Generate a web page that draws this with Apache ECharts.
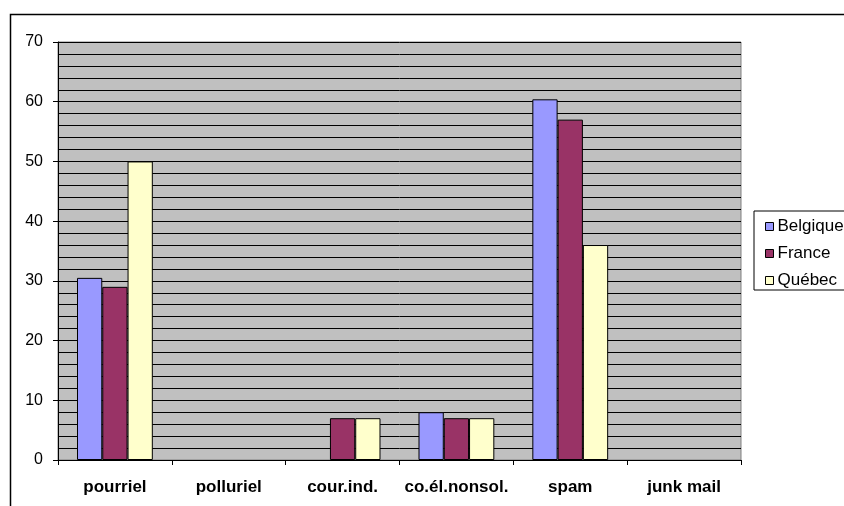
<!DOCTYPE html>
<html>
<head>
<meta charset="utf-8">
<script src="https://cdn.jsdelivr.net/npm/echarts@6/dist/echarts.min.js"></script>
<style>
  html, body { margin: 0; padding: 0; background: #fff; }
  #chart { width: 844px; height: 506px; }
</style>
</head>
<body>
<div id="chart"></div>
<script>
// Terms used for unsolicited e-mail, by region (%)
const categories = ['pourriel', 'polluriel', 'cour.ind.', 'co.él.nonsol.', 'spam', 'junk mail'];
const belgique = [30.5, null, null, 8, 60.4, null];
const france   = [29, null, 7, 7, 57, null];
const quebec   = [50, null, 7, 7, 36, null];
const seriesNames = ['Belgique', 'France', 'Québec'];
const seriesColors = ['#9999FF', '#993366', '#FFFFCC'];

const chart = echarts.init(document.getElementById('chart'), null, { renderer: 'canvas' });

const values = [belgique, france, quebec];

chart.setOption({
  animation: false,
  textStyle: { fontFamily: 'Arial, "Liberation Sans", sans-serif' },
  graphic: [{
    type: 'rect',
    shape: { x: 10.5, y: 14.5, width: 900, height: 600 },
    style: { fill: 'none', stroke: '#000', lineWidth: 1.5 },
    silent: true
  }],
  grid: {
    left: 58, right: 103, top: 42, bottom: 46,
    show: true,
    backgroundColor: '#C0C0C0',
    borderColor: '#808080',
    borderWidth: 1
  },
  legend: {
    orient: 'vertical',
    left: 754, top: 211,
    padding: [7, 20, 1, 11],
    itemGap: 10,
    itemWidth: 8, itemHeight: 8,
    borderColor: '#000', borderWidth: 1,
    backgroundColor: '#fff',
    icon: 'rect',
    itemStyle: { borderColor: '#000', borderWidth: 1 },
    textStyle: { fontSize: 17, lineHeight: 17, color: '#000', padding: [0, 0, 0, -1] },
    data: seriesNames
  },
  xAxis: {
    type: 'category',
    data: categories,
    axisLine: { lineStyle: { color: '#000', width: 1 } },
    axisTick: { show: true, length: 5, lineStyle: { color: '#000' } },
    axisLabel: { interval: 0, fontSize: 17, fontWeight: 'bold', color: '#000', margin: 19 },
    splitLine: { show: false }
  },
  yAxis: {
    type: 'value',
    min: 0, max: 70, interval: 10,
    axisLine: { show: true, lineStyle: { color: '#000', width: 1 } },
    axisTick: { show: true, length: 5, lineStyle: { color: '#000' } },
    axisLabel: { fontSize: 16, color: '#000', margin: 15 },
    splitLine: { show: true, lineStyle: { color: '#000', width: 1 } },
    minorTick: { show: false, splitNumber: 5 },
    minorSplitLine: { show: true, lineStyle: { color: '#000', width: 1 } }
  },
  series: seriesNames.map((name, i) => ({
    name: name,
    type: 'bar',
    data: values[i],
    barGap: '0%',
    barCategoryGap: '33.4%',
    itemStyle: { color: seriesColors[i], borderColor: '#000', borderWidth: 1 }
  }))
});
</script>
</body>
</html>
